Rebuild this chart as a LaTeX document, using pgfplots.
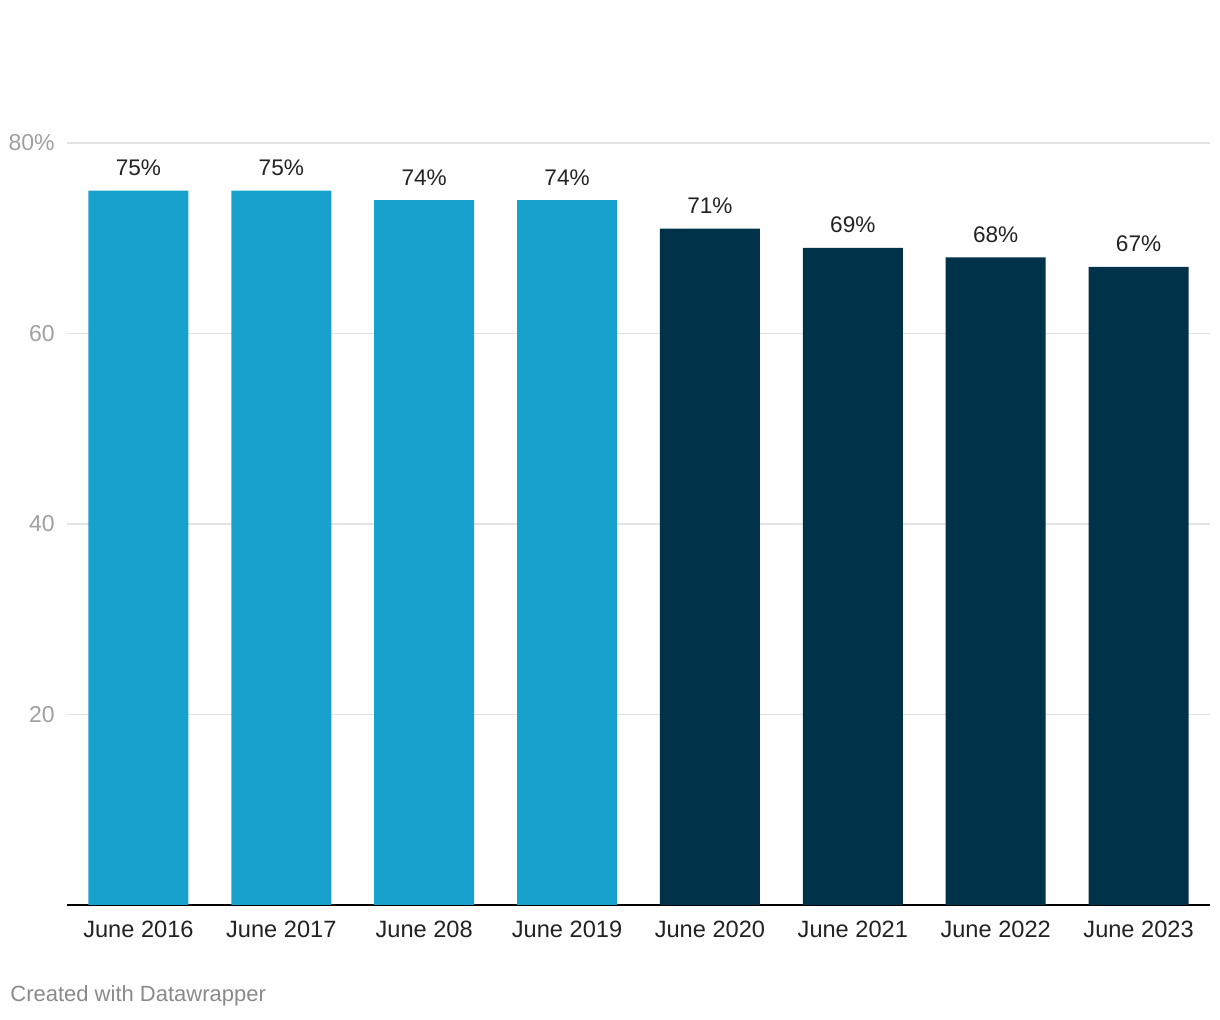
\documentclass[border=0pt]{standalone}
\usepackage{pgfplots}
\pgfplotsset{compat=1.18}
\usepackage{fontspec}
\setmainfont{Liberation Sans}
\definecolor{lightbar}{HTML}{18A1CD}
\definecolor{darkbar}{HTML}{003349}
\definecolor{gridc}{HTML}{E3E3E3}
\definecolor{ticktxt}{HTML}{A0A0A0}
\definecolor{labtxt}{HTML}{222222}
\definecolor{credit}{HTML}{8A8A8A}
\begin{document}
\begin{tikzpicture}
\path[use as bounding box] (0,0) rectangle (610pt,510pt);
\begin{axis}[
  at={(33.5pt,57.5pt)}, anchor=south west,
  scale only axis,
  width=571.5pt, height=381pt,
  xmin=-0.5, xmax=7.5,
  ymin=0, ymax=80,
  axis x line*=bottom, axis y line*=left,
  x axis line style={-, black, line width=1pt},
  y axis line style={draw=none},
  xtick={0,1,...,7},
  xticklabels={June 2016,June 2017,June 208,June 2019,June 2020,June 2021,June 2022,June 2023},
  ytick={20,40,60,80},
  yticklabels={20,40,60,80\%},
  tick style={draw=none},
  ymajorgrids,
  major grid style={gridc, line width=0.6pt},
  /pgf/number format/assume math mode=true,
  xticklabel style={font=\fontsize{11.8}{13}\selectfont, text=labtxt, inner sep=0pt, anchor=base, yshift=-12pt},
  yticklabel style={font=\fontsize{11.5}{13}\selectfont, text=ticktxt, inner sep=0pt, anchor=east, xshift=-6pt},
  ybar, bar width=50pt, bar shift=0pt,
  nodes near coords={\pgfmathprintnumber{\pgfplotspointmeta}\%},
  every node near coord/.append style={font=\fontsize{11.3}{13}\selectfont, text=labtxt, anchor=base, inner sep=0pt, yshift=7.5pt},
]
\addplot[draw=none, fill=lightbar] coordinates {(0,75) (1,75) (2,74) (3,74)};
\addplot[draw=none, fill=darkbar] coordinates {(4,71) (5,69) (6,68) (7,67)};
\end{axis}
\node[anchor=base west, inner sep=0pt, text=credit, font=\fontsize{11}{13}\selectfont] at (5pt,9pt) {Created with Datawrapper};
\end{tikzpicture}
\end{document}
